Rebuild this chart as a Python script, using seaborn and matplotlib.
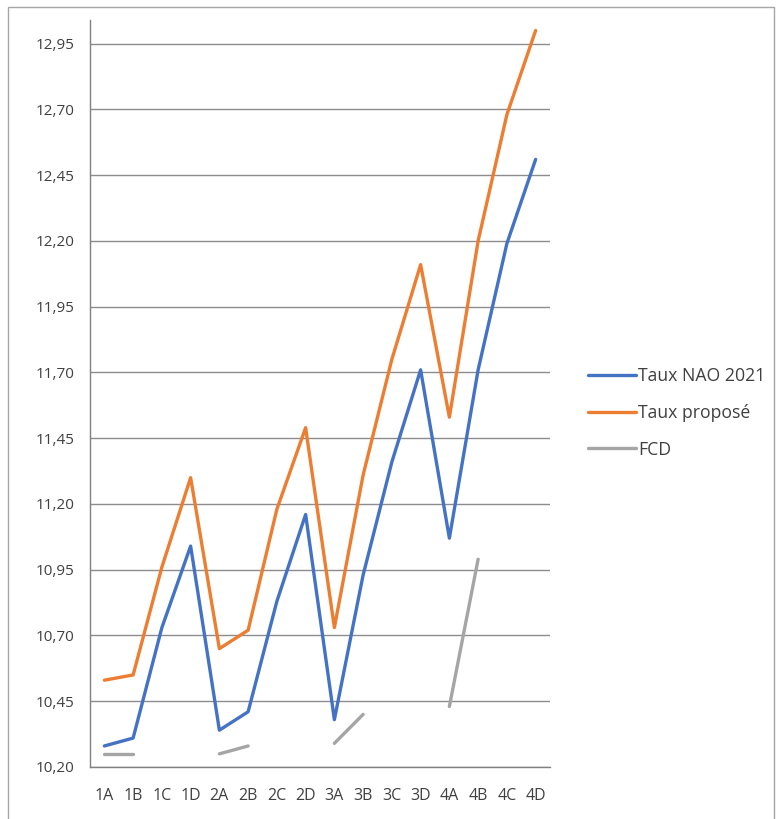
import numpy as np
import pandas as pd
import matplotlib
matplotlib.use("Agg")
import matplotlib.pyplot as plt
from matplotlib.patches import Rectangle
from matplotlib.ticker import FixedLocator, FuncFormatter
import seaborn as sns

categories = ["1A", "1B", "1C", "1D", "2A", "2B", "2C", "2D",
              "3A", "3B", "3C", "3D", "4A", "4B", "4C", "4D"]
taux_nao = [10.28, 10.31, 10.73, 11.04, 10.34, 10.41, 10.83, 11.16,
            10.38, 10.93, 11.36, 11.71, 11.07, 11.71, 12.19, 12.51]
taux_propose = [10.53, 10.55, 10.96, 11.30, 10.65, 10.72, 11.18, 11.49,
                10.73, 11.31, 11.75, 12.11, 11.53, 12.20, 12.68, 13.00]
fcd = [10.25, 10.25, np.nan, np.nan, 10.25, 10.28, np.nan, np.nan,
       10.29, 10.40, np.nan, np.nan, 10.43, 10.99, np.nan, np.nan]
series_names = ["Taux NAO 2021", "Taux proposé", "FCD"]
colors = ["#4472C4", "#ED7D31", "#A5A5A5"]

# long form; FCD is split into segments so gaps stay gaps
rows = []
for name, vals in zip(series_names, [taux_nao, taux_propose, fcd]):
    seg = 0
    for i, v in enumerate(vals):
        if np.isnan(v):
            seg += 1
            continue
        rows.append({"x": i, "value": v, "series": name, "seg": seg})
df = pd.DataFrame(rows)

sns.set_style("white")
plt.rcParams["font.family"] = ["Open Sans", "DejaVu Sans"]

fig = plt.figure(figsize=(7.77, 8.19), dpi=100)
ax = fig.add_axes([90 / 777, 52 / 819, 460 / 777, 747 / 819])

sns.lineplot(data=df, x="x", y="value", hue="series", units="seg",
             estimator=None, hue_order=series_names, palette=colors,
             linewidth=2.4, ax=ax, legend=False)

ax.set_xlim(-0.5, len(categories) - 0.5)
ax.set_ylim(10.20, 13.04)
yticks = np.round(np.arange(10.20, 12.96, 0.25), 2)
ax.yaxis.set_major_locator(FixedLocator(yticks))
ax.yaxis.set_major_formatter(FuncFormatter(lambda v, p: f"{v:.2f}".replace(".", ",")))
ax.set_xticks(range(len(categories)))
ax.set_xticklabels(categories)
ax.xaxis.set_minor_locator(FixedLocator(np.arange(-0.5, len(categories), 1)))
ax.tick_params(axis="x", which="major", length=0, labelsize=11.5, colors="#404040", pad=15)
ax.tick_params(axis="x", which="minor", length=5, color="#808080", width=1, direction="out")
ax.tick_params(axis="y", which="major", length=5, color="#808080", width=1,
               direction="out", labelsize=11, labelcolor="#404040", pad=6)
ax.set_xlabel("")
ax.set_ylabel("")

ax.grid(axis="y", color="#8c8c8c", linewidth=1)
ax.set_axisbelow(True)
for s in ["top", "right"]:
    ax.spines[s].set_visible(False)
for s in ["left", "bottom"]:
    ax.spines[s].set_color("#808080")
    ax.spines[s].set_linewidth(1)

handles = [plt.Line2D([], [], color=c, linewidth=2.4) for c in colors]
fig.legend(handles, series_names, loc="center left", bbox_to_anchor=(572 / 777, 1 - 413 / 819),
           frameon=False, fontsize=12.7, handlelength=2.7, handletextpad=0.15,
           labelspacing=1.05, labelcolor="#404040")

fig.patches.append(Rectangle((8 / 777, -0.05), 766 / 777, 1.05 - 7 / 819, transform=fig.transFigure,
                             fill=False, edgecolor="#a6a6a6", linewidth=1))

fig.savefig("out.png", dpi=100, facecolor="white")
